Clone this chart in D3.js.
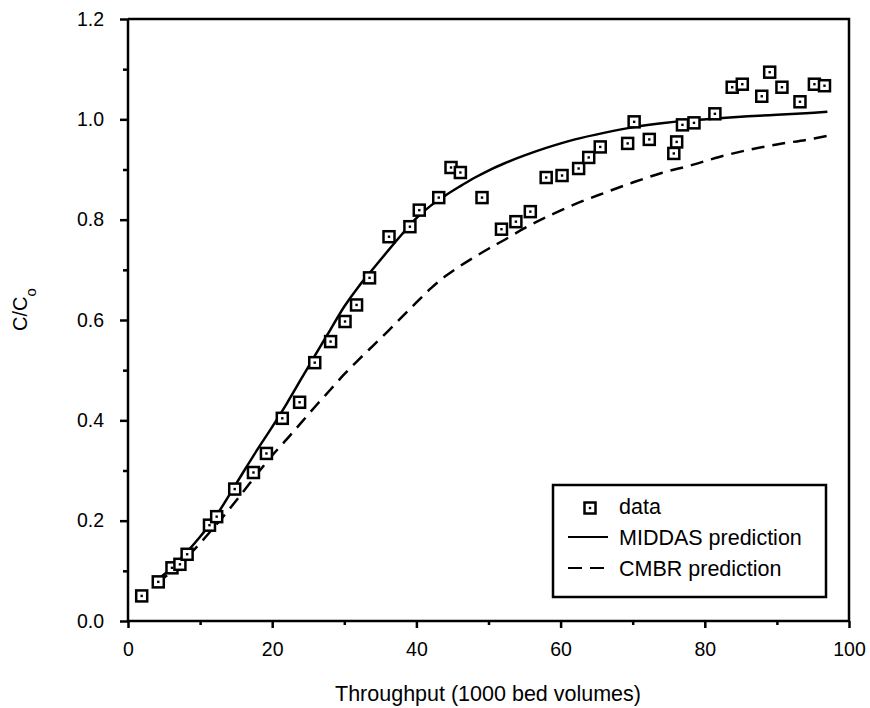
<!DOCTYPE html>
<html>
<head>
<meta charset="utf-8">
<script src="https://cdn.jsdelivr.net/npm/d3@7"></script>
<style>
  body { margin: 0; background: #fff; }
  svg { font-family: "Liberation Sans", Arial, sans-serif; }
  .axis path, .axis line { stroke: #000; stroke-width: 2.5; }
  .axis text { font-size: 19.5px; fill: #000; }
</style>
</head>
<body>
<div id="chart"></div>
<script>
// measured points (throughput in 1000 BV, C/C0)
const dataX = [1.9, 4.2, 6.1, 7.2, 8.2, 11.3, 12.3, 14.8, 17.4, 19.2, 21.4, 23.8, 25.9, 28.1, 30.1, 31.7, 33.5,
  36.2, 39.1, 40.4, 43.1, 44.8, 46.1, 49.1, 51.8, 53.8, 55.8, 58.0, 60.2, 62.5, 63.9, 65.5, 69.3, 70.2, 72.3,
  75.7, 76.1, 76.9, 78.5, 81.4, 83.8, 85.2, 87.9, 89.0, 90.7, 93.2, 95.2, 96.6];
const dataY = [0.050, 0.078, 0.106, 0.113, 0.133, 0.191, 0.208, 0.263, 0.296, 0.334, 0.404, 0.436, 0.515, 0.557, 0.597, 0.630, 0.684,
  0.766, 0.786, 0.819, 0.844, 0.904, 0.894, 0.844, 0.781, 0.796, 0.816, 0.884, 0.888, 0.902, 0.924, 0.945, 0.952, 0.995, 0.960,
  0.932, 0.955, 0.989, 0.993, 1.011, 1.064, 1.070, 1.046, 1.094, 1.064, 1.035, 1.070, 1.067];

// model curves
const curveX = [4, 6, 8, 10, 12, 14, 16, 18, 20, 22, 24, 26, 28, 30, 32, 34, 36, 38, 40, 42, 44, 46, 48, 50, 52,
  55, 58, 62, 66, 70, 74, 78, 82, 86, 90, 94, 97];
const middasY = [0.082, 0.105, 0.135, 0.168, 0.205, 0.250, 0.297, 0.343, 0.387, 0.433, 0.482, 0.531, 0.579, 0.627, 0.667, 0.702,
  0.737, 0.771, 0.803, 0.828, 0.848, 0.866, 0.883, 0.898, 0.911, 0.928, 0.943, 0.960, 0.973, 0.984, 0.992, 0.998, 1.002,
  1.006, 1.009, 1.012, 1.015];
const cmbrY = [0.075, 0.098, 0.125, 0.155, 0.188, 0.222, 0.258, 0.295, 0.330, 0.362, 0.395, 0.428, 0.460, 0.492, 0.521, 0.549,
  0.577, 0.606, 0.635, 0.663, 0.687, 0.707, 0.725, 0.742, 0.758, 0.783, 0.805, 0.831, 0.853, 0.874, 0.893, 0.908, 0.925,
  0.939, 0.950, 0.959, 0.967];

const xTicks = [0, 20, 40, 60, 80, 100];
const yTicks = [0, 0.2, 0.4, 0.6, 0.8, 1.0, 1.2];
const legendLabels = ['data', 'MIDDAS prediction', 'CMBR prediction'];

const width = 870, height = 708;
const margin = {top: 19, right: 21, bottom: 87, left: 128};
const _width = width - margin.left - margin.right;
const _height = height - margin.top - margin.bottom;

const svg = d3.select('#chart').append('svg')
  .attr('width', width)
  .attr('height', height);

const g = svg.append('g')
  .attr('transform', `translate(${margin.left},${margin.top})`);

const xScale = d3.scaleLinear().domain([0, 100]).range([0, _width]);
const yScale = d3.scaleLinear().domain([0, 1.2]).range([_height, 0]);

// minor ticks first, then major
g.append('g')
  .attr('class', 'axis')
  .attr('transform', `translate(0,${_height})`)
  .call(d3.axisBottom(xScale).tickValues([10, 30, 50, 70, 90]).tickSize(4).tickFormat(''))
  .select('.domain').remove();
g.append('g')
  .attr('class', 'axis')
  .call(d3.axisLeft(yScale).tickValues([0.1, 0.3, 0.5, 0.7, 0.9, 1.1]).tickSize(5).tickFormat(''))
  .select('.domain').remove();

g.append('g')
  .attr('class', 'axis')
  .attr('transform', `translate(0,${_height})`)
  .call(d3.axisBottom(xScale).tickValues(xTicks).tickSize(7).tickPadding(14).tickFormat(d3.format('d')))
  .call(a => a.select('.domain').attr('d', `M0,0H${_width}`));

g.append('g')
  .attr('class', 'axis')
  .call(d3.axisLeft(yScale).tickValues(yTicks).tickSize(8).tickPadding(16).tickFormat(d3.format('.1f')))
  .call(a => a.select('.domain').attr('d', `M0,${_height}V0`));

// top and right frame
g.append('path')
  .attr('d', `M0,0H${_width}V${_height}`)
  .attr('fill', 'none')
  .attr('stroke', '#000')
  .attr('stroke-width', 2.5);

const line = d3.line()
  .x(d => xScale(d[0]))
  .y(d => yScale(d[1]))
  .curve(d3.curveCatmullRom);

g.append('path')
  .datum(curveX.map((x, i) => [x, middasY[i]]))
  .attr('d', line)
  .attr('fill', 'none')
  .attr('stroke', '#000')
  .attr('stroke-width', 2.5);

g.append('path')
  .datum(curveX.map((x, i) => [x, cmbrY[i]]))
  .attr('d', line)
  .attr('fill', 'none')
  .attr('stroke', '#000')
  .attr('stroke-width', 2.5)
  .attr('stroke-dasharray', '13,8');

function marker(sel) {
  sel.append('rect')
    .attr('x', -5.5).attr('y', -5.5)
    .attr('width', 11).attr('height', 11)
    .attr('fill', '#fff')
    .attr('stroke', '#000')
    .attr('stroke-width', 2.5);
  sel.append('rect')
    .attr('x', -1.2).attr('y', -1.2)
    .attr('width', 2.4).attr('height', 2.4)
    .attr('fill', '#000');
}

g.selectAll('.pt')
  .data(dataX.map((x, i) => [x, dataY[i]]))
  .enter()
  .append('g')
  .attr('class', 'pt')
  .attr('transform', d => `translate(${xScale(d[0])},${yScale(d[1])})`)
  .call(marker);

// legend
const lg = svg.append('g').attr('transform', 'translate(553,485)');
lg.append('rect')
  .attr('width', 273).attr('height', 112)
  .attr('fill', '#fff')
  .attr('stroke', '#000')
  .attr('stroke-width', 2.5);

lg.append('g').attr('transform', 'translate(37,23)').call(marker);
lg.append('line').attr('x1', 15).attr('x2', 55).attr('y1', 52).attr('y2', 52)
  .attr('stroke', '#000').attr('stroke-width', 2);
lg.append('line').attr('x1', 15).attr('x2', 55).attr('y1', 83).attr('y2', 83)
  .attr('stroke', '#000').attr('stroke-width', 2).attr('stroke-dasharray', '14,8');

lg.selectAll('.lt')
  .data(legendLabels)
  .enter()
  .append('text')
  .attr('x', 66)
  .attr('y', (d, i) => 29 + i * 31)
  .attr('font-size', 21.5)
  .text(d => d);

// axis titles
svg.append('text')
  .attr('x', 488)
  .attr('y', 701)
  .attr('text-anchor', 'middle')
  .attr('font-size', 21.5)
  .text('Throughput (1000 bed volumes)');

const yt = svg.append('text')
  .attr('transform', 'translate(27,331) rotate(-90)')
  .attr('font-size', 20);
yt.append('tspan').text('C/C');
yt.append('tspan').attr('dy', 9).attr('font-size', 15).text('o');
</script>
</body>
</html>
